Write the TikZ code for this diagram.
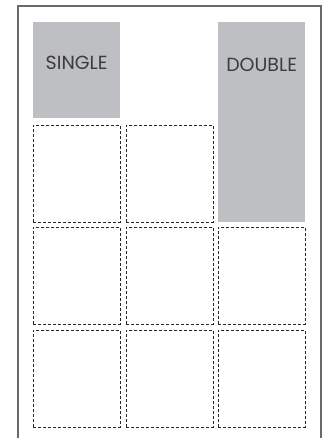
\documentclass[tikz,border=0pt]{standalone}
\usepackage{fontspec}
\setmainfont{Poppins}
\usepackage{tikz}
\usetikzlibrary{positioning,calc}
\definecolor{clrBox}{RGB}{190,191,194}
\definecolor{clrTxt}{RGB}{60,60,62}
\definecolor{clrFrm}{RGB}{105,105,108}

\begin{document}
\begin{tikzpicture}[x=1pt,y=1pt,
   gbox/.style={rectangle,fill=clrBox,draw=none,anchor=north west,
     minimum width=87pt,inner sep=0pt},
   tag/.style={font=\fontsize{19}{22}\selectfont,text=clrTxt,anchor=center},
   cell/.style={rectangle,draw=black!85,line width=0.8pt,
     dash pattern=on 3pt off 2pt,anchor=north west,
     minimum width=87pt,minimum height=97pt,inner sep=0pt}]

  \useasboundingbox (0,0) rectangle (326,-438);

  % outer frame, open at the bottom
  \draw[clrFrm,line width=2pt] (18,-438) -- (18,-6) -- (321,-6) -- (321,-438);

  % sample boxes
  \node[gbox,minimum height=96pt] (single) at (33,-22) {};
  \node[gbox,minimum height=200pt] (double) at (218,-22) {};
  \node[tag] (tsingle) at ($(single.north)+(0,-41)$) {SINGLE};
  \node[tag] (tdouble) at ($(double.north)+(0,-42.5)$) {DOUBLE};

  % grid of slots
  \node[cell] (c11) at (33,-125) {};
  \node[cell] (c12) at (126,-125) {};
  \node[cell] (c21) at (33,-227) {};
  \node[cell] (c22) at (126,-227) {};
  \node[cell] (c23) at (218,-227) {};
  \node[cell] (c31) at (33,-330) {};
  \node[cell] (c32) at (126,-330) {};
  \node[cell] (c33) at (218,-330) {};
\end{tikzpicture}
\end{document}
